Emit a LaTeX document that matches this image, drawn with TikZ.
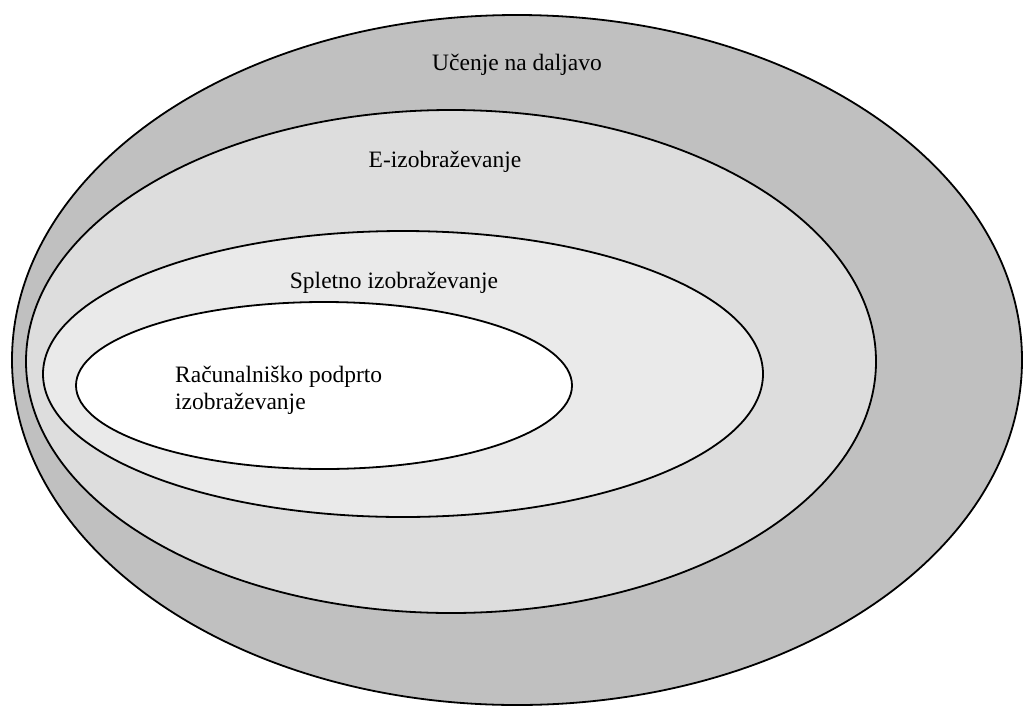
\documentclass[tikz,border=0pt]{standalone}
\usepackage{fontspec}
\setmainfont{Liberation Serif}
\begin{document}
\begin{tikzpicture}[x=1pt,y=-1pt,
  ring/.style={draw=black,line width=1.8pt},
  lbl/.style={inner sep=0pt,anchor=base,font=\fontsize{23.5}{27}\selectfont}]
\useasboundingbox (0,0) rectangle (1024,707);
% nested ellipses, outermost first
\draw[ring,fill={rgb,255:red,192;green,192;blue,192}] (517,360) ellipse [x radius=505, y radius=345];
\draw[ring,fill={rgb,255:red,221;green,221;blue,221}] (451,361.5) ellipse [x radius=425, y radius=251.5];
\draw[ring,fill={rgb,255:red,234;green,234;blue,234}] (403,374) ellipse [x radius=360, y radius=143];
\draw[ring,fill=white] (324,385.5) ellipse [x radius=248, y radius=83.5];
% labels
\node[lbl] (dist) at (517,70) {Učenje na daljavo};
\node[lbl] (elearn) at (445,167) {E-izobraževanje};
\node[lbl] (web) at (394,288) {Spletno izobraževanje};
% a two-line node sits on the baseline of its last line
\node[lbl,anchor=base west,align=left] (cbt) at (175,409) {Računalniško podprto\\izobraževanje};
\end{tikzpicture}
\end{document}
